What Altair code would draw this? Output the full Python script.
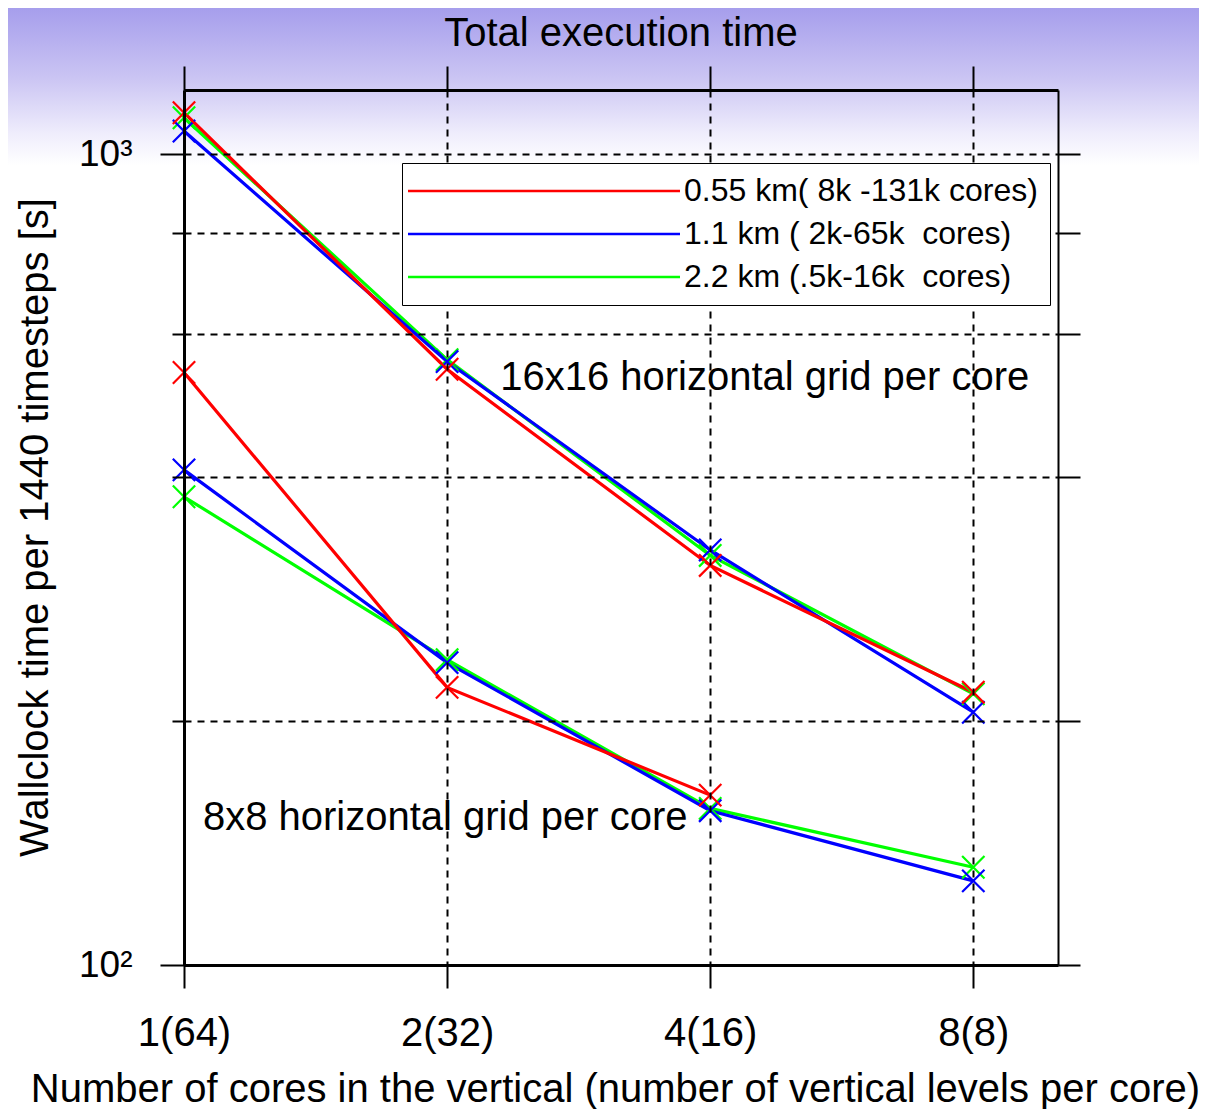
import altair as alt
import pandas as pd

# ---------------- data ----------------
x_values = [1, 2, 4, 8]
x_tick_labels = ["1(64)", "2(32)", "4(16)", "8(8)"]

series_names = ["0.55 km( 8k -131k cores)", "1.1 km ( 2k-65k \u00a0cores)", "2.2 km (.5k-16k \u00a0cores)"]
series_colors = ["#ff0000", "#0000ff", "#00ff00"]

g16_red = [1125, 543, 311, 217]
g16_blue = [1068, 555, 325, 205]
g16_green = [1109, 558, 320, 216]

g8_red = [538, 220, 162]
g8_blue = [408, 236, 155, 127]
g8_green = [378, 238, 156, 132]

y_tick_values = [100, 200, 400, 600, 800, 1000]
y_major = [100, 1000]
y_major_labels = ["10²", "10³"]

annotation_texts = ["16x16 horizontal grid per core", "8x8 horizontal grid per core"]
annotation_x = [2.30, 1.051]
annotation_y = [529, 152]

FONT = "Liberation Sans"

# ---------------- tables ----------------
rows = []
for grp, series_list in [("16x16", [g16_green, g16_blue, g16_red]),
                         ("8x8", [g8_green, g8_blue, g8_red])]:
    for name, vals in zip([series_names[2], series_names[1], series_names[0]], series_list):
        for xv, yv in zip(x_values, vals):
            rows.append({"group": grp, "series": name, "cores": xv, "time": yv,
                         "key": grp + "|" + name})
df = pd.DataFrame(rows)

ann_df = pd.DataFrame({"text": annotation_texts, "x": annotation_x, "y": annotation_y})

x_expr = " : ".join(
    [f"datum.value == {v} ? '{l}'" for v, l in zip(x_values, x_tick_labels)]) + " : ''"
y_expr = " : ".join(
    [f"datum.value == {v} ? '{l}'" for v, l in zip(y_major, y_major_labels)]) + " : ''"
major_test = " || ".join([f"datum.value == {v}" for v in y_major])

x_scale = alt.Scale(type="log", domain=[1, 10], nice=False)
y_scale = alt.Scale(type="log", domain=[100, 1200], nice=False)
color_scale = alt.Scale(domain=series_names, range=series_colors)

# ---------------- background gradient ----------------
bg = alt.Chart(pd.DataFrame({"a": [0]})).mark_rect(
    clip=False,
    fill={"gradient": "linear", "x1": 0, "x2": 0, "y1": 0, "y2": 1,
          "stops": [{"offset": 0, "color": "#a69eec"},
                    {"offset": 0.45, "color": "#cbc5f3"},
                    {"offset": 0.8, "color": "#efedfc"},
                    {"offset": 1, "color": "#ffffff"}]},
).encode(x=alt.value(-176), x2=alt.value(1023), y=alt.value(-82), y2=alt.value(75))

# ---------------- lines ----------------
lines = alt.Chart(df).mark_line(strokeWidth=3.2, clip=False).encode(
    x=alt.X("cores:Q", scale=x_scale, axis=alt.Axis(
        orient="bottom", values=x_values, labelExpr=x_expr, labelFlush=False,
        labelOverlap=False, tickSize=23, tickWidth=2, tickColor="black",
        domainColor="black", domainWidth=3, grid=True, gridColor="black",
        gridDash=[7, 6], gridWidth=2, gridOpacity=1,
        labelFont=FONT, labelFontSize=40, labelColor="black", labelPadding=25,
        labelBaseline="top",
        title="Number of cores in the vertical (number of vertical levels per core)",
        titleFont=FONT, titleFontSize=40, titleFontWeight="normal", titleColor="black",
        titleX=431, titleY=136, titleBaseline="alphabetic", titleAlign="center",
        zindex=1)),
    y=alt.Y("time:Q", scale=y_scale, axis=alt.Axis(
        orient="left", values=y_tick_values, labelExpr=y_expr, labelFlush=False,
        labelOverlap=False,
        tickSize={"condition": {"test": major_test, "value": 24}, "value": 12},
        tickWidth=2, tickColor="black", domainColor="black", domainWidth=3,
        grid=True, gridColor="black", gridDash=[7, 6], gridWidth=2, gridOpacity=1,
        labelFont=FONT, labelFontSize=37, labelColor="black", labelPadding=28,
        labelBaseline="middle",
        title="Wallclock time per 1440 timesteps [s]",
        titleFont=FONT, titleFontSize=40, titleFontWeight="normal", titleColor="black",
        titleAngle=270, titleX=-137, titleY=437, titleAlign="center",
        titleBaseline="alphabetic", zindex=1)),
    color=alt.Color("series:N", scale=color_scale, legend=alt.Legend(
        title=None, orient="none", legendX=218, legendY=73,
        symbolType="M-4.4,0L50,0", symbolSize=100, symbolStrokeWidth=2.5,
        symbolOffset=0, labelOffset=238, labelFont=FONT, labelFontSize=32,
        labelColor="black", labelLimit=1000, fillColor="white", strokeColor="black",
        padding=12, rowPadding=11, zindex=3)),
    detail="key:N",
    order="cores:Q",
)

# ---------------- markers ----------------
points = alt.Chart(df).mark_point(
    shape="M-1,-1L1,1M1,-1L-1,1", size=500, filled=False, strokeWidth=2.2, opacity=1,
    clip=False,
).encode(
    x=alt.X("cores:Q", scale=x_scale, axis=alt.Axis(
        orient="top", values=x_values, labels=False, tickSize=24, tickWidth=2,
        tickColor="black", domainColor="black", domainWidth=3, grid=False,
        title=None, zindex=1)),
    y=alt.Y("time:Q", scale=y_scale, axis=alt.Axis(
        orient="right", values=y_tick_values, labels=False, tickSize=22, tickWidth=2,
        tickColor="black", domainColor="black", domainWidth=2, grid=False,
        title=None, zindex=1)),
    color=alt.Color("series:N", scale=color_scale, legend=None),
    detail="key:N",
)

# ---------------- annotations ----------------
texts = alt.Chart(ann_df).mark_text(
    align="left", baseline="middle", font=FONT, fontSize=40, color="black",
).encode(
    x=alt.X("x:Q", scale=x_scale, axis=None),
    y=alt.Y("y:Q", scale=y_scale, axis=None),
    text="text:N",
)

chart = alt.layer(bg, lines, points, texts).resolve_axis(
    x="independent", y="independent"
).properties(
    width=874, height=875,
    title=alt.TitleParams(text="Total execution time", font=FONT, fontSize=40,
                          fontWeight="normal", color="black", anchor="middle",
                          frame="group", offset=-78, baseline="alphabetic"),
    padding={"left": 176, "top": 82, "right": 141, "bottom": 144},
    autosize=alt.AutoSizeParams(type="none"),
).configure_view(stroke=None)

chart.save("out.html", embed_options={"renderer": "svg", "actions": False})
